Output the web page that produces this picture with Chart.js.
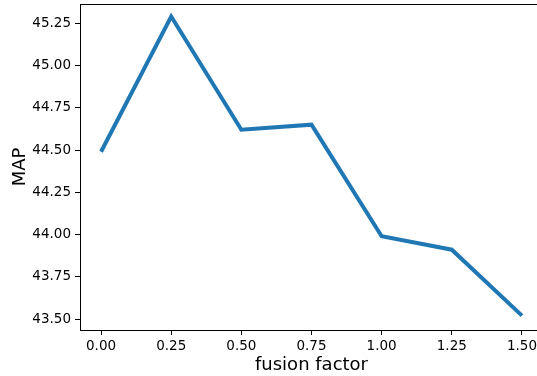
<!DOCTYPE html>
<html><head><meta charset="utf-8">
<script src="https://cdn.jsdelivr.net/npm/chart.js@4"></script>
<style>html,body{margin:0;padding:0;overflow:hidden;background:#fff}#c{display:block}</style>
</head><body><canvas id="c" width="560" height="376" style="width:560px;height:376px"></canvas>
<script>
const fusionFactor = [0, 0.25, 0.5, 0.75, 1.0, 1.25, 1.5];
const mapValues = [44.49, 45.29, 44.62, 44.65, 43.99, 43.91, 43.52];
const xTicks = [0, 0.25, 0.5, 0.75, 1.0, 1.25, 1.5];
const yTicks = [43.5, 43.75, 44.0, 44.25, 44.5, 44.75, 45.0, 45.25];

const frame = {id:'frame', afterDraw(chart){const a=chart.chartArea,ctx=chart.ctx;ctx.save();ctx.strokeStyle='#000';ctx.lineWidth=1.1;
  const t=Math.round(a.top)+0.5;ctx.beginPath();ctx.moveTo(Math.round(a.left),t);ctx.lineTo(Math.round(a.right)+1,t);ctx.lineTo(Math.round(a.right)+0.5,Math.round(a.bottom));ctx.stroke();ctx.restore();}};
const font = {family:'DejaVu Sans', size:13.5};
new Chart(document.getElementById('c'), {
  type:'line',
  data:{datasets:[{data:fusionFactor.map((x,i)=>({x:x,y:mapValues[i]})), borderColor:'#1f77b4', borderWidth:4, pointRadius:0, tension:0, fill:false}]},
  options:{
    responsive:false, maintainAspectRatio:false, animation:false, devicePixelRatio:1,
    layout:{padding:{top:4,right:17,left:0,bottom:0}},
    plugins:{legend:{display:false}, tooltip:{enabled:false}},
    scales:{
      x:{type:'linear', min:-0.075, max:1.575,
        afterBuildTicks(s){s.ticks=xTicks.map(v=>({value:v}));},
        afterFit(s){s.height=46;s.paddingLeft=0;s.paddingRight=0;},
        ticks:{callback:v=>v.toFixed(2), font:font, color:'#000', padding:3, maxRotation:0, autoSkip:false},
        grid:{display:true, drawOnChartArea:false, tickLength:5, tickColor:'#000', tickWidth:1},
        border:{display:true,color:'#000',width:1},
        title:{display:true,text:'fusion factor',font:{family:'DejaVu Sans',size:18},color:'#000',padding:{top:0,bottom:0}}
      },
      y:{type:'linear', min:43.435, max:45.364,
        afterBuildTicks(s){s.ticks=yTicks.map(v=>({value:v}));},
        afterFit(s){s.width=80;s.paddingTop=0;s.paddingBottom=0;},
        ticks:{callback:v=>v.toFixed(2), font:font, color:'#000', padding:4, autoSkip:false},
        grid:{display:true, drawOnChartArea:false, tickLength:5, tickColor:'#000', tickWidth:1},
        border:{display:true,color:'#000',width:1},
        title:{display:true,text:'MAP',font:{family:'DejaVu Sans',size:18},color:'#000',padding:{top:10,bottom:0}}
      }
    }
  },
  plugins:[frame]
});
</script></body></html>
